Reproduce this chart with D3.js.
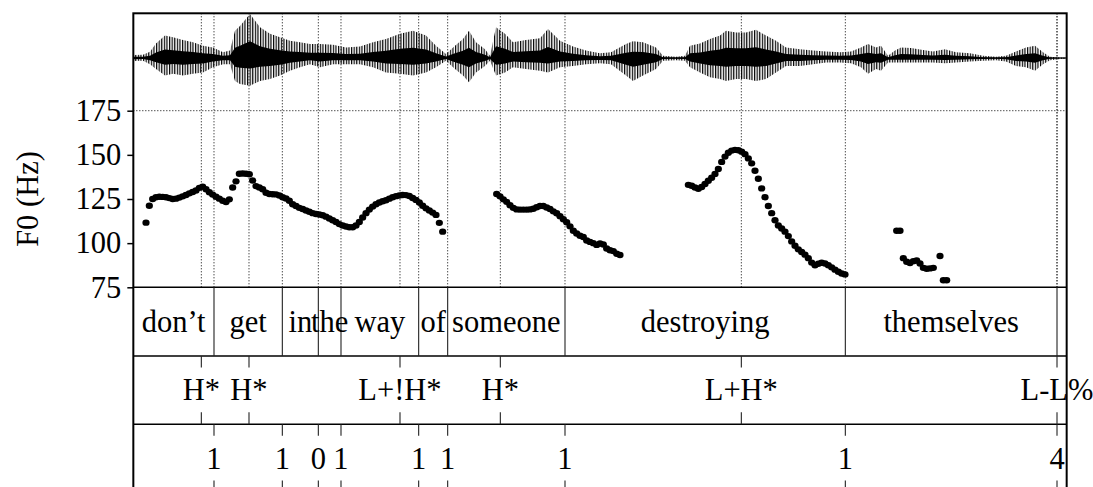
<!DOCTYPE html>
<html><head><meta charset="utf-8">
<script src="https://cdn.jsdelivr.net/npm/d3@7"></script>
<style>
body{margin:0;background:#fff}
svg{display:block}
text{font-family:"Liberation Serif","Times New Roman",serif;fill:#000}
</style>
</head><body><svg id="chart" width="1093" height="487"></svg>
<script>
// ---------------- data ----------------
const duration = 2.8;           // seconds
const frameStep = 0.01;         // pitch frame step (s)

const f0Ticks = [75, 100, 125, 150, 175];

const words = ["don’t", "get", "in", "the", "way", "of", "someone", "destroying", "themselves", ""];
const wordBounds = [0, 0.242, 0.447, 0.555, 0.623, 0.856, 0.943, 1.295, 2.136, 2.771, 2.8];

const toneTimes = [0.204, 0.347, 0.8, 1.101, 1.824, 2.771];
const toneLabels = ["H*", "H*", "L+!H*", "H*", "L+H*", "L-L%"];

const breakTimes = [0.242, 0.447, 0.555, 0.623, 0.856, 0.943, 1.295, 2.136, 2.771];
const breakLabels = ["1", "1", "0", "1", "1", "1", "1", "1", "4"];

// pitch track segments (start time, then one value per frame, null = unvoiced)
const seg1Start = 0.038;
const seg1F0 = [111.6,121.2,125,126,126.3,126.2,126,125.5,125,125.2,125.8,126.5,127.3,128.2,129,129.8,131.3,132,130.5,128.8,127.5,126.3,125.2,124,123.3,124.8,
  131.5,135,139.3,139.4,139.3,139,135.5,132.3,131.5,130.5,128.5,127.8,127.7,127.6,127,126,125.3,124,122,121,120,119.3,118.5,117.8,117,116.5,116.2,115.8,115,114,113,112,110.8,110,109.4,109,109,110,112,114.5,117,119,120.7,122,123,123.7,124.3,125.2,126,126.6,127,127.3,127.2,126.7,125.6,124.5,123,121.2,119.7,118.5,117.3,116,111.5,106.5];
const seg2Start = 1.090;
const seg2F0 = [127.8,126.5,124.8,123.4,121.5,120,119.1,119,119,119,119.1,119.5,120.3,121,121,120.2,119.3,118,116.9,115.3,113.5,111.8,109.5,107,105.5,104.2,103.5,101.5,100.7,100,99,99.8,99.2,97,96,95.5,94,93.3];
const seg3Start = 1.665;
const seg3F0 = [133,132.5,131.5,130.8,131.8,133.5,135.3,137,139.2,142,146,149,151.2,152.4,152.8,152.6,151.8,150.4,148,145.2,141,136.5,131,126,121,117,113,110,108.3,106.5,104,101,98.5,96.5,95,93.5,91.5,89,87.5,88.3,88.9,88.5,87.5,86.3,85,83.8,82.8,82.3];
const seg4Start = 2.290;
const seg4F0 = [107,107,91.5,89.5,88.8,89.8,90.2,88.5,86,85.5,85.7,86,null,92.7,79,79];

// waveform envelope (relative amplitude)
const waveTimes = [0,0.029,0.05,0.068,0.095,0.119,0.149,0.179,0.209,0.239,0.269,0.29,0.305,0.32,0.35,0.38,0.41,0.44,0.47,0.5,
  0.53,0.56,0.599,0.638,0.68,0.719,0.758,0.8,0.839,0.878,0.908,0.938,0.965,0.989,1.007,1.028,1.055,1.07,1.088,1.115,
  1.139,1.178,1.22,1.244,1.28,1.319,1.358,1.4,1.433,1.478,1.499,1.529,1.568,1.589,1.628,1.655,1.67,1.7,1.73,1.76,
  1.778,1.808,1.838,1.868,1.898,1.928,1.958,2.0,2.039,2.078,2.12,2.153,2.183,2.204,2.228,2.243,2.264,2.285,2.303,2.333,
  2.369,2.399,2.435,2.468,2.51,2.549,2.588,2.618,2.648,2.678,2.705,2.729,2.75,2.78,2.8];
const waveMax = [0.07,0.075,0.14,0.33,0.51,0.47,0.41,0.36,0.28,0.24,0.13,0.17,0.62,0.73,1.0,0.70,0.55,0.47,0.39,0.36,
  0.32,0.32,0.30,0.24,0.26,0.36,0.43,0.55,0.62,0.51,0.28,0.09,0.28,0.43,0.62,0.36,0.20,0.05,0.70,0.55,
  0.36,0.41,0.45,0.66,0.39,0.26,0.17,0.11,0.13,0.32,0.38,0.36,0.24,0.05,0.03,0.05,0.28,0.33,0.43,0.51,
  0.62,0.58,0.58,0.64,0.51,0.39,0.24,0.20,0.17,0.15,0.13,0.15,0.24,0.32,0.24,0.28,0.05,0.17,0.24,0.23,
  0.18,0.15,0.20,0.13,0.11,0.05,0.03,0.05,0.15,0.24,0.28,0.13,0.03,0.01,0.01];
const waveMin = [-0.07,-0.06,-0.14,-0.25,-0.40,-0.36,-0.40,-0.36,-0.33,-0.21,-0.14,-0.14,-0.52,-0.59,-0.63,-0.52,-0.48,-0.40,-0.29,-0.21,
  -0.14,-0.21,-0.14,-0.14,-0.14,-0.21,-0.33,-0.36,-0.40,-0.33,-0.21,-0.06,-0.25,-0.40,-0.55,-0.33,-0.18,-0.06,-0.40,-0.33,
  -0.21,-0.25,-0.29,-0.33,-0.21,-0.18,-0.14,-0.12,-0.14,-0.40,-0.52,-0.40,-0.25,-0.06,-0.05,-0.06,-0.21,-0.33,-0.44,-0.48,
  -0.52,-0.48,-0.48,-0.52,-0.48,-0.33,-0.18,-0.18,-0.14,-0.10,-0.10,-0.12,-0.21,-0.36,-0.25,-0.29,-0.10,-0.10,-0.10,-0.10,
  -0.10,-0.10,-0.12,-0.10,-0.08,-0.06,-0.05,-0.08,-0.18,-0.21,-0.29,-0.14,-0.05,-0.02,-0.02];

// ---------------- drawing ----------------
(function () {
const svg = d3.select("#chart");
const FS = 30.5;
const pLeft = 133.33, pRight = 1066.67, pTop = 13.3;
const wordTop = 287.3, toneTop = 356, breakTop = 424.3, pBottom = 492.6;

const x = d3.scaleLinear().domain([0, duration]).range([pLeft, pRight]);
const yF0 = d3.scaleLinear().domain([75, 175]).range([287.3, 110.7]);
const yW = d3.scaleLinear().domain([-1, 1]).range([102, 14]);

svg.append("rect").attr("width", 1093).attr("height", 487).attr("fill", "#fff");

const defs = svg.append("defs");
const pat = defs.append("pattern").attr("id", "stripes").attr("patternUnits", "userSpaceOnUse")
  .attr("width", 2.6).attr("height", 10);
pat.append("rect").attr("width", 1.2).attr("height", 10).attr("fill", "#000");

// dotted guide lines
const guideTimes = wordBounds.slice(1, -1).concat(toneTimes);
svg.append("g").selectAll("line").data(guideTimes).join("line")
  .attr("x1", d => x(d)).attr("x2", d => x(d))
  .attr("y1", pTop).attr("y2", wordTop)
  .attr("stroke", "#000").attr("stroke-width", 1).attr("stroke-dasharray", "1,2");
svg.append("line").attr("x1", pLeft).attr("x2", pRight)
  .attr("y1", yF0(175)).attr("y2", yF0(175))
  .attr("stroke", "#000").attr("stroke-width", 1).attr("stroke-dasharray", "1,2");

// waveform
const idx = d3.range(waveTimes.length);
svg.append("line").attr("x1", pLeft).attr("x2", pRight).attr("y1", yW(0)).attr("y2", yW(0))
  .attr("stroke", "#000").attr("stroke-width", 1);
const outer = d3.area().x(i => x(waveTimes[i])).y0(i => yW(waveMin[i])).y1(i => yW(waveMax[i]));
svg.append("path").attr("d", outer(idx)).attr("fill", "url(#stripes)");
const core = d3.area().x(i => x(waveTimes[i])).y0(i => yW(waveMin[i] * 0.38)).y1(i => yW(waveMax[i] * 0.38));
svg.append("path").attr("d", core(idx)).attr("fill", "#000");

// pitch dots
const segs = [[seg1Start, seg1F0], [seg2Start, seg2F0], [seg3Start, seg3F0], [seg4Start, seg4F0]];
const pts = [];
segs.forEach(([s, vals]) => vals.forEach((v, i) => { if (v !== null) pts.push([s + i * frameStep, v]); }));
svg.append("g").selectAll("ellipse").data(pts).join("ellipse")
  .attr("cx", d => x(d[0])).attr("cy", d => yF0(d[1])).attr("rx", 3.6).attr("ry", 3.2).attr("fill", "#000");

// tier separators
[wordTop, toneTop, breakTop].forEach(yy => {
  svg.append("line").attr("x1", pLeft).attr("x2", pRight).attr("y1", yy).attr("y2", yy)
    .attr("stroke", "#000").attr("stroke-width", 1.5);
});

// word tier
svg.append("g").selectAll("line").data(wordBounds.slice(1, -1)).join("line")
  .attr("x1", d => x(d)).attr("x2", d => x(d)).attr("y1", wordTop).attr("y2", toneTop)
  .attr("stroke", "#222").attr("stroke-width", 1.1);
svg.append("g").selectAll("text").data(words).join("text")
  .attr("x", (d, i) => x((wordBounds[i] + wordBounds[i + 1]) / 2))
  .attr("y", (wordTop + toneTop) / 2).attr("dy", "0.33em")
  .attr("text-anchor", "middle").attr("font-size", FS).text(d => d);

// tone tier
const toneG = svg.append("g");
toneTimes.forEach((t, i) => {
  toneG.append("line").attr("x1", x(t)).attr("x2", x(t)).attr("y1", toneTop).attr("y2", toneTop + 11.5)
    .attr("stroke", "#222").attr("stroke-width", 1.1);
  toneG.append("line").attr("x1", x(t)).attr("x2", x(t)).attr("y1", breakTop - 12).attr("y2", breakTop)
    .attr("stroke", "#222").attr("stroke-width", 1.1);
  toneG.append("text").attr("x", x(t)).attr("y", (toneTop + breakTop) / 2).attr("dy", "0.33em")
    .attr("text-anchor", "middle").attr("font-size", FS).text(toneLabels[i]);
});

// break tier
const brG = svg.append("g");
breakTimes.forEach((t, i) => {
  brG.append("line").attr("x1", x(t)).attr("x2", x(t)).attr("y1", breakTop).attr("y2", breakTop + 11.5)
    .attr("stroke", "#222").attr("stroke-width", 1.1);
  brG.append("line").attr("x1", x(t)).attr("x2", x(t)).attr("y1", pBottom - 12).attr("y2", pBottom)
    .attr("stroke", "#222").attr("stroke-width", 1.1);
  brG.append("text").attr("x", x(t)).attr("y", (breakTop + pBottom) / 2).attr("dy", "0.33em")
    .attr("text-anchor", "middle").attr("font-size", FS).text(breakLabels[i]);
});

// frame
svg.append("rect").attr("x", pLeft).attr("y", pTop).attr("width", pRight - pLeft).attr("height", pBottom - pTop)
  .attr("fill", "none").attr("stroke", "#000").attr("stroke-width", 2);

// F0 axis
const ax = svg.append("g").attr("transform", `translate(${pLeft},0)`)
  .call(d3.axisLeft(yF0).tickValues(f0Ticks).tickSize(6).tickPadding(6));
ax.select(".domain").remove();
ax.selectAll("line").attr("stroke", "#000").attr("stroke-width", 1.5);
ax.selectAll("text").attr("font-size", FS).attr("font-family", "'Liberation Serif','Times New Roman',serif").attr("fill", "#000");

svg.append("text").attr("transform", "translate(38,199) rotate(-90)")
  .attr("text-anchor", "middle").attr("font-size", FS).text("F0 (Hz)");
})();
</script></body></html>
